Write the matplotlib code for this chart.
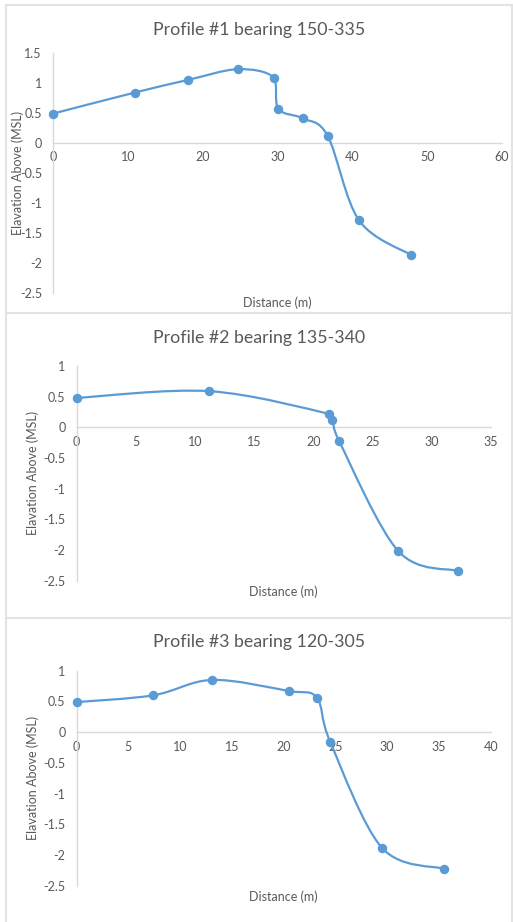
import numpy as np
import matplotlib
matplotlib.use('Agg')
import matplotlib.pyplot as plt
from matplotlib.path import Path
from matplotlib.patches import PathPatch
from matplotlib.lines import Line2D
from matplotlib.ticker import FuncFormatter, MultipleLocator

plt.rcParams['font.family'] = ['Lato', 'DejaVu Sans']

# --- profile data (distance in m, elevation above MSL) ---
p1_dist = [0, 10.9, 18.0, 24.7, 29.5, 30.1, 33.4, 36.7, 40.9, 47.9]
p1_elev = [0.49, 0.84, 1.05, 1.23, 1.09, 0.57, 0.41, 0.12, -1.29, -1.87]

p2_dist = [0, 11.2, 21.3, 21.6, 22.2, 27.2, 32.2]
p2_elev = [0.48, 0.59, 0.22, 0.12, -0.23, -2.02, -2.34]

p3_dist = [0, 7.4, 13.1, 20.5, 23.2, 24.5, 29.5, 35.5]
p3_elev = [0.49, 0.60, 0.85, 0.67, 0.56, -0.16, -1.88, -2.22]

titles = ['Profile #1 bearing 150-335',
          'Profile #2 bearing 135-340',
          'Profile #3 bearing 120-305']

BLUE = '#5B9BD5'
TEXT = '#595959'
GRID = '#d9d9d9'

W, H = 513, 922
fig = plt.figure(figsize=(W / 100, H / 100), dpi=100)


def fx(px):
    return px / W


def fy(py):
    return 1 - py / H


def smooth_path(x, y):
    # smoothed line: cubic bezier through every point, handles kept
    # inside their segment so the curve never loops back
    pts = np.column_stack([x, y]).astype(float)
    n = len(pts)
    verts = [pts[0]]
    codes = [Path.MOVETO]
    for i in range(n - 1):
        p0 = pts[i - 1] if i > 0 else pts[i]
        p3 = pts[i + 2] if i + 2 < n else pts[i + 1]
        dx = pts[i + 1][0] - pts[i][0]
        d1 = (pts[i + 1] - p0) / 6
        d2 = (p3 - pts[i]) / 6
        if d1[0] > dx:
            d1 = d1 * dx / d1[0]
        if d2[0] > dx:
            d2 = d2 * dx / d2[0]
        verts += [pts[i] + d1, pts[i + 1] - d2, pts[i + 1]]
        codes += [Path.CURVE4] * 3
    return Path(verts, codes)


def profile(box, xlim, xstep, ylim, dist, elev, title, title_y, xlabel_y, ylabel_x):
    left, top, right, bottom = box
    ax = fig.add_axes([fx(left), fy(bottom), fx(right - left), (bottom - top) / H])
    ax.set_xlim(*xlim)
    ax.set_ylim(*ylim)
    ax.xaxis.set_major_locator(MultipleLocator(xstep))
    ax.yaxis.set_major_locator(MultipleLocator(0.5))
    fmt = FuncFormatter(lambda v, p: f'{v:g}')
    ax.xaxis.set_major_formatter(fmt)
    ax.yaxis.set_major_formatter(fmt)

    for s in ['top', 'right']:
        ax.spines[s].set_visible(False)
    ax.spines['bottom'].set_position(('data', 0))
    ax.spines['bottom'].set_color(GRID)
    ax.spines['left'].set_color(GRID)
    ax.spines['bottom'].set_linewidth(1.0)
    ax.spines['left'].set_linewidth(1.0)
    ax.tick_params(length=0, labelcolor=TEXT, labelsize=9)
    ax.tick_params(axis='y', pad=8)
    ax.tick_params(axis='x', pad=6)
    ax.patch.set_alpha(0)

    ax.add_patch(PathPatch(smooth_path(dist, elev), facecolor='none',
                           edgecolor=BLUE, lw=1.6, zorder=3))
    ax.plot(dist, elev, 'o', color=BLUE, ms=5.8, zorder=4, clip_on=False)

    cx = (left + right) / 2
    fig.text(fx(259), fy(title_y), title, ha='center', va='center',
             fontsize=12.8, color=TEXT)
    fig.text(fx(cx), fy(xlabel_y), 'Distance (m)', ha='center', va='center',
             fontsize=9, color=TEXT)
    fig.text(fx(ylabel_x), fy((top + bottom) / 2), 'Elavation Above (MSL)',
             ha='center', va='center', rotation=90, fontsize=9, color=TEXT)
    return ax


profile((53, 53, 502, 293), (0, 60), 10, (-2.5, 1.5), p1_dist, p1_elev,
        titles[0], 30, 303, 18)
profile((76.7, 366, 490.7, 580.7), (0, 35), 5, (-2.5, 1), p2_dist, p2_elev,
        titles[1], 338, 592, 33)
profile((76.7, 670.7, 490.7, 886), (0, 40), 5, (-2.5, 1), p3_dist, p3_elev,
        titles[2], 641.5, 897, 33)

# chart area borders
for y in [5, 313, 618]:
    fig.add_artist(Line2D([fx(6), fx(512)], [fy(y), fy(y)], color='#e3e3e3', lw=1.5))
for x in [6, 512]:
    fig.add_artist(Line2D([fx(x), fx(x)], [fy(5), fy(922)], color='#e3e3e3', lw=1.5))

fig.savefig('out.png', dpi=100)
